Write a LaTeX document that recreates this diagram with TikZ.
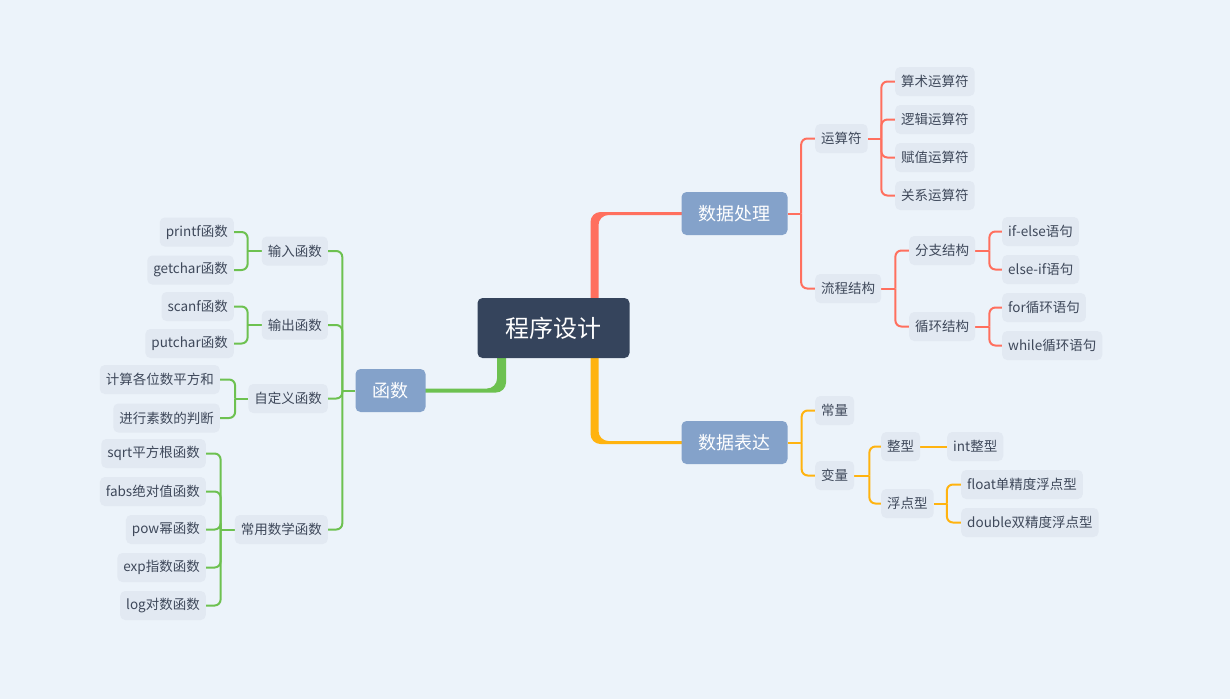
\documentclass[tikz,border=0pt]{standalone}
\usepackage{fontspec}
\setmainfont{Noto Sans CJK SC}
\usetikzlibrary{backgrounds}
\definecolor{bgblue}{RGB}{236,243,250}
\definecolor{rootnavy}{RGB}{53,68,92}
\definecolor{mainblue}{RGB}{132,162,202}
\definecolor{leafgray}{RGB}{226,233,242}
\definecolor{inkgray}{RGB}{62,72,90}
\definecolor{linered}{RGB}{255,111,94}
\definecolor{lineyellow}{RGB}{255,179,15}
\definecolor{linegreen}{RGB}{109,193,80}

\begin{document}
\begin{tikzpicture}[x=1pt,y=-1pt,
  rootnode/.style={fill=rootnavy,text=white,rounded corners=5pt,
    minimum height=60pt,inner xsep=28pt,font=\fontsize{24}{28}\selectfont},
  mainnode/.style={fill=mainblue,text=white,rounded corners=5pt,
    minimum height=43pt,inner xsep=17pt,font=\fontsize{18}{22}\selectfont},
  leafnode/.style={fill=leafgray,text=inkgray,rounded corners=5pt,
    minimum height=29pt,inner xsep=6pt,font=\fontsize{13.5}{16}\selectfont},
  rl/.style={leafnode,anchor=west},
  ll/.style={leafnode,anchor=east},
  link/.style={line width=2pt,rounded corners=6pt},
  trunk/.style={rounded corners=10pt}]

  \useasboundingbox (0,0) rectangle (1230,699);

  \node[rootnode] (root) at (553.5,328) {程序设计};
  \node[mainnode] (chuli) at (734.5,213.5) {数据处理};
  \node[mainnode] (biaoda) at (734.5,442.5) {数据表达};
  \node[mainnode] (hanshu) at (390.5,390.5) {函数};

  % 数据处理 side
  \node[rl] (yunsuan) at (815,138.5) {运算符};
  \node[rl] (liucheng) at (815,288.5) {流程结构};
  \node[rl] (suanshu) at (895,81.5) {算术运算符};
  \node[rl] (luoji) at (895,119.5) {逻辑运算符};
  \node[rl] (fuzhi) at (895,157.5) {赋值运算符};
  \node[rl] (guanxi) at (895,195.5) {关系运算符};
  \node[rl] (fenzhi) at (909,250.5) {分支结构};
  \node[rl] (xunhuan) at (909,326.5) {循环结构};
  \node[rl] (ifelse) at (1002,231.5) {if-else语句};
  \node[rl] (elseif) at (1002,269.5) {else-if语句};
  \node[rl] (forloop) at (1002,307.5) {for循环语句};
  \node[rl] (whileloop) at (1002,345.5) {while循环语句};

  % 数据表达 side
  \node[rl] (changliang) at (815,410.5) {常量};
  \node[rl] (bianliang) at (815,475.5) {变量};
  \node[rl] (zhengxing) at (881,446.5) {整型};
  \node[rl] (fudian) at (881,503.5) {浮点型};
  \node[rl] (intx) at (947,446.5) {int整型};
  \node[rl] (floatx) at (961,484.5) {float单精度浮点型};
  \node[rl] (doublex) at (961,522.5) {double双精度浮点型};

  % 函数 side
  \node[ll] (shuru) at (328,251) {输入函数};
  \node[ll] (shuchu) at (328,325) {输出函数};
  \node[ll] (zidingyi) at (328,398.5) {自定义函数};
  \node[ll] (changyong) at (328,529.5) {常用数学函数};
  \node[ll] (printf) at (234,232) {printf函数};
  \node[ll] (getchar) at (234,270) {getchar函数};
  \node[ll] (scanf) at (234,306.5) {scanf函数};
  \node[ll] (putchar) at (234,343.5) {putchar函数};
  \node[ll] (pingfang) at (220,379.5) {计算各位数平方和};
  \node[ll] (sushu) at (220,418) {进行素数的判断};
  \node[ll] (sqrtf) at (206,453.5) {sqrt平方根函数};
  \node[ll] (fabsf) at (206,491.5) {fabs绝对值函数};
  \node[ll] (powf) at (206,529.5) {pow幂函数};
  \node[ll] (expf) at (206,567.5) {exp指数函数};
  \node[ll] (logf) at (206,605.5) {log对数函数};

  \begin{scope}[on background layer]
    \fill[bgblue] (0,0) rectangle (1230,699);

    % thick trunks out of the root
    \fill[linered,trunk] ([xshift=37pt]root.center) |- ([yshift=1.5pt]chuli.center)
      -- ([yshift=-1.5pt]chuli.center) -| ([xshift=45pt]root.center) -- cycle;
    \fill[lineyellow,trunk] ([xshift=37pt]root.center) |- ([yshift=-1.5pt]biaoda.center)
      -- ([yshift=1.5pt]biaoda.center) -| ([xshift=45pt]root.center) -- cycle;
    \fill[linegreen,trunk] ([xshift=-47.5pt]root.center) |- ([yshift=-2pt]hanshu.center)
      -- ([yshift=2pt]hanshu.center) -| ([xshift=-56.5pt]root.center) -- cycle;

    % red branch
    \draw[link,linered] (chuli.east) -- ++(13.5,0) coordinate (chulib);
    \foreach \n in {yunsuan,liucheng} \draw[link,linered] (chulib) |- (\n.west);
    \draw[link,linered] (yunsuan.east) -- ++(13.5,0) coordinate (yunsuanb);
    \foreach \n in {suanshu,luoji,fuzhi,guanxi} \draw[link,linered] (yunsuanb) |- (\n.west);
    \draw[link,linered] (liucheng.east) -- ++(14,0) coordinate (liuchengb);
    \foreach \n in {fenzhi,xunhuan} \draw[link,linered] (liuchengb) |- (\n.west);
    \draw[link,linered] (fenzhi.east) -- ++(14,0) coordinate (fenzhib);
    \foreach \n in {ifelse,elseif} \draw[link,linered] (fenzhib) |- (\n.west);
    \draw[link,linered] (xunhuan.east) -- ++(14,0) coordinate (xunhuanb);
    \foreach \n in {forloop,whileloop} \draw[link,linered] (xunhuanb) |- (\n.west);

    % yellow branch
    \draw[link,lineyellow] (biaoda.east) -- ++(14,0) coordinate (biaodab);
    \foreach \n in {changliang,bianliang} \draw[link,lineyellow] (biaodab) |- (\n.west);
    \draw[link,lineyellow] (bianliang.east) -- ++(15,0) coordinate (bianliangb);
    \foreach \n in {zhengxing,fudian} \draw[link,lineyellow] (bianliangb) |- (\n.west);
    \draw[link,lineyellow] (zhengxing.east) -- (intx.west);
    \draw[link,lineyellow] (fudian.east) -- ++(13,0) coordinate (fudianb);
    \foreach \n in {floatx,doublex} \draw[link,lineyellow] (fudianb) |- (\n.west);

    % green branch
    \draw[link,linegreen] (hanshu.west) -- ++(-13,0) coordinate (hanshub);
    \foreach \n in {shuru,shuchu,zidingyi,changyong} \draw[link,linegreen] (hanshub) |- (\n.east);
    \draw[link,linegreen] (shuru.west) -- ++(-14,0) coordinate (shurub);
    \foreach \n in {printf,getchar} \draw[link,linegreen] (shurub) |- (\n.east);
    \draw[link,linegreen] (shuchu.west) -- ++(-14,0) coordinate (shuchub);
    \foreach \n in {scanf,putchar} \draw[link,linegreen] (shuchub) |- (\n.east);
    \draw[link,linegreen] (zidingyi.west) -- ++(-13,0) coordinate (zidingyib);
    \foreach \n in {pingfang,sushu} \draw[link,linegreen] (zidingyib) |- (\n.east);
    \draw[link,linegreen] (changyong.west) -- ++(-14,0) coordinate (changyongb);
    \foreach \n in {sqrtf,fabsf,powf,expf,logf} \draw[link,linegreen] (changyongb) |- (\n.east);
  \end{scope}
\end{tikzpicture}
\end{document}
